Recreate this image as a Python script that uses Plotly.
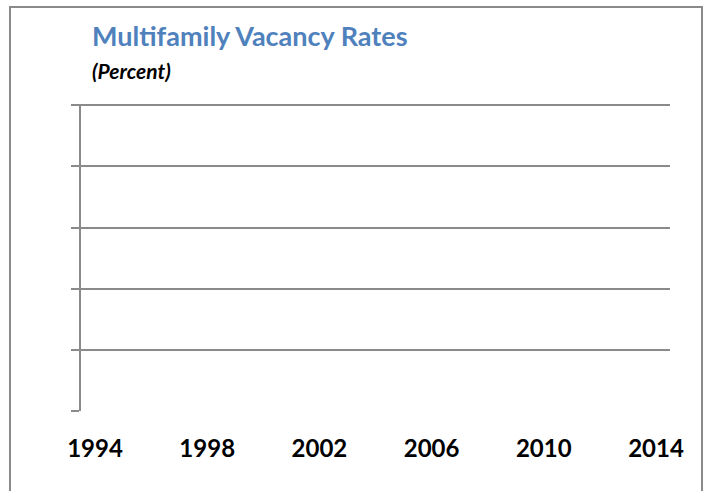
import plotly.graph_objects as go

# Data (the reference chart shows no plotted series)
tick_years = [1994, 1998, 2002, 2006, 2010, 2014]
tick_labels = ["1994", "1998", "2002", "2006", "2010", "2014"]
series_years = []
vacancy_rates = []
y_grid_values = [1, 2, 3, 4, 5]

W, H = 709, 491
L, R, T, B = 81, 39, 104, 80
PW, PH = W - L - R, H - T - B

def px_x(p):
    return (p - L) / PW

def px_y(p):
    return (H - B - p) / PH

GRAY = "#8a8a8a"

fig = go.Figure()
fig.add_trace(go.Scatter(x=series_years, y=vacancy_rates, mode="lines",
                         line=dict(color="#4F81BD", width=2), showlegend=False))

fig.update_layout(
    width=W, height=H,
    margin=dict(l=L, r=R, t=T, b=B),
    paper_bgcolor="white", plot_bgcolor="white",
    showlegend=False,
    xaxis=dict(
        range=[1993.5, 2014.5],
        tickvals=tick_years, ticktext=tick_labels,
        showgrid=False, zeroline=False, showline=False, ticks="",
        tickfont=dict(family="Lato", size=24, color="black", weight="bold"),
        ticklabelstandoff=21,
    ),
    yaxis=dict(
        range=[0, 5.02],
        tickvals=y_grid_values,
        showticklabels=False,
        showgrid=True, gridcolor=GRAY, gridwidth=1.5,
        zeroline=False,
        showline=True, linecolor=GRAY, linewidth=1.5,
        ticks="outside", ticklen=8, tickcolor=GRAY, tickwidth=1.5,
        minor=dict(tickvals=[0], ticks="outside", ticklen=8, tickcolor=GRAY,
                   tickwidth=1.5, showgrid=False),
    ),
    annotations=[
        dict(text="<b>Multifamily Vacancy Rates</b>", xref="paper", yref="paper",
             x=px_x(90), y=px_y(36), xanchor="left", yanchor="middle",
             showarrow=False,
             font=dict(family="Lato", size=27, color="#4F81BD")),
        dict(text="<b><i>(Percent)</i></b>", xref="paper", yref="paper",
             x=px_x(90), y=px_y(71), xanchor="left", yanchor="middle",
             showarrow=False,
             font=dict(family="Lato", size=21, color="black")),
    ],
    shapes=[
        dict(type="rect", xref="paper", yref="paper",
             x0=px_x(10), x1=px_x(702), y0=px_y(500), y1=px_y(7),
             line=dict(color=GRAY, width=2), fillcolor="rgba(0,0,0,0)", layer="below"),
    ],
)

fig.write_html("out.html", config={"displayModeBar": False},
               post_script="document.body.style.margin='0';")
